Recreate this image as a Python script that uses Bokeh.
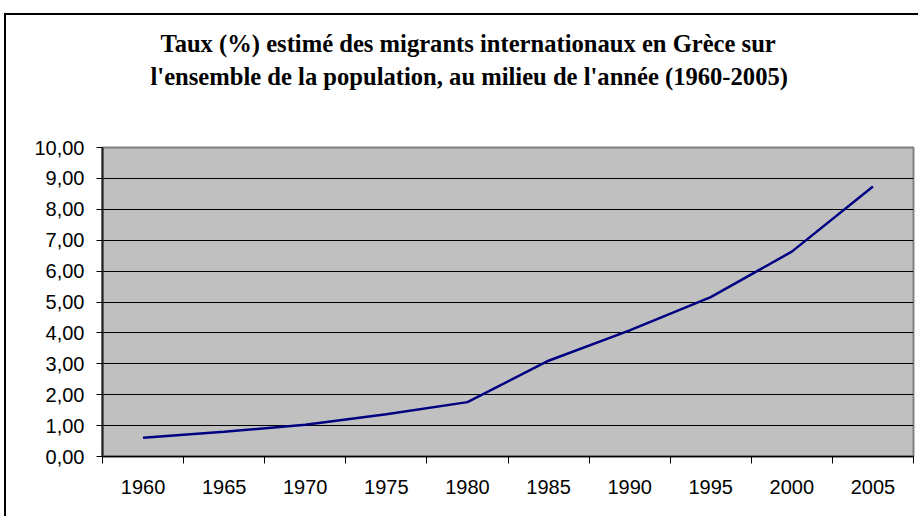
from bokeh.plotting import figure
from bokeh.models import FixedTicker, Range1d, Title
from bokeh.embed import file_html
from bokeh.resources import INLINE

years = ["1960", "1965", "1970", "1975", "1980", "1985", "1990", "1995", "2000", "2005"]
rates = [0.61, 0.80, 1.03, 1.37, 1.76, 3.10, 4.08, 5.16, 6.63, 8.74]
y_ticks = [0, 1, 2, 3, 4, 5, 6, 7, 8, 9, 10]
y_tick_labels = ["0,00", "1,00", "2,00", "3,00", "4,00", "5,00", "6,00", "7,00", "8,00", "9,00", "10,00"]
title_lines = ["Taux (%) estimé des migrants internationaux en Grèce sur",
               "l'ensemble de la population, au milieu de l'année (1960-2005)"]

x_pos = [i + 0.5 for i in range(len(years))]

p = figure(width=914, height=503, output_backend="svg", toolbar_location=None,
           x_range=Range1d(0, len(years)), y_range=Range1d(0, 10),
           min_border_left=96, min_border_right=7, min_border_top=132, min_border_bottom=62)
p.styles = {"margin-top": "13px", "margin-left": "4px",
            "border-left": "2px solid black", "border-top": "2px solid black"}
p.background_fill_color = "#C0C0C0"
p.border_fill_color = "white"
p.outline_line_color = "#808080"
p.outline_line_width = 2

p.line(x_pos, rates, line_color="#000080", line_width=2.5)

# x axis
p.xaxis.ticker = FixedTicker(ticks=x_pos, minor_ticks=list(range(len(years) + 1)))
p.xaxis.major_label_overrides = {x: y for x, y in zip(x_pos, years)}
p.xaxis.major_tick_line_color = None
p.xaxis.minor_tick_line_color = "black"
p.xaxis.minor_tick_out = 7
p.xaxis.minor_tick_in = 0
p.xaxis.axis_line_color = "black"
p.xaxis.axis_line_width = 1.5
p.xaxis.major_label_text_font = "Liberation Sans"
p.xaxis.major_label_text_font_size = "20px"
p.xaxis.major_label_text_color = "black"
p.xaxis.major_label_standoff = 16
p.xgrid.grid_line_color = None

# y axis
p.yaxis.ticker = FixedTicker(ticks=y_ticks)
p.yaxis.major_label_overrides = {t: l for t, l in zip(y_ticks, y_tick_labels)}
p.yaxis.major_tick_out = 6
p.yaxis.major_tick_in = 0
p.yaxis.minor_tick_line_color = None
p.yaxis.major_tick_line_color = "black"
p.yaxis.axis_line_color = "#202020"
p.yaxis.axis_line_width = 2
p.yaxis.major_label_text_font = "Liberation Sans"
p.yaxis.major_label_text_font_size = "20px"
p.yaxis.major_label_text_color = "black"
p.yaxis.major_label_standoff = 12
p.ygrid.grid_line_color = "black"
p.ygrid.grid_line_width = 1

# spacer between plot area and title block
p.add_layout(Title(text=" ", standoff=53, text_font_size="1px"), "above")
# title (second line first: it sits closest to the plot)
p.add_layout(Title(text=title_lines[1], align="left", offset=48, standoff=4,
                   text_font="Liberation Serif", text_font_style="bold",
                   text_font_size="24.6px", text_color="black"), "above")
p.add_layout(Title(text=title_lines[0], align="left", offset=58, standoff=4,
                   text_font="Liberation Serif", text_font_style="bold",
                   text_font_size="24.6px", text_color="black"), "above")

open("out.html", "w").write(file_html(p, INLINE))
